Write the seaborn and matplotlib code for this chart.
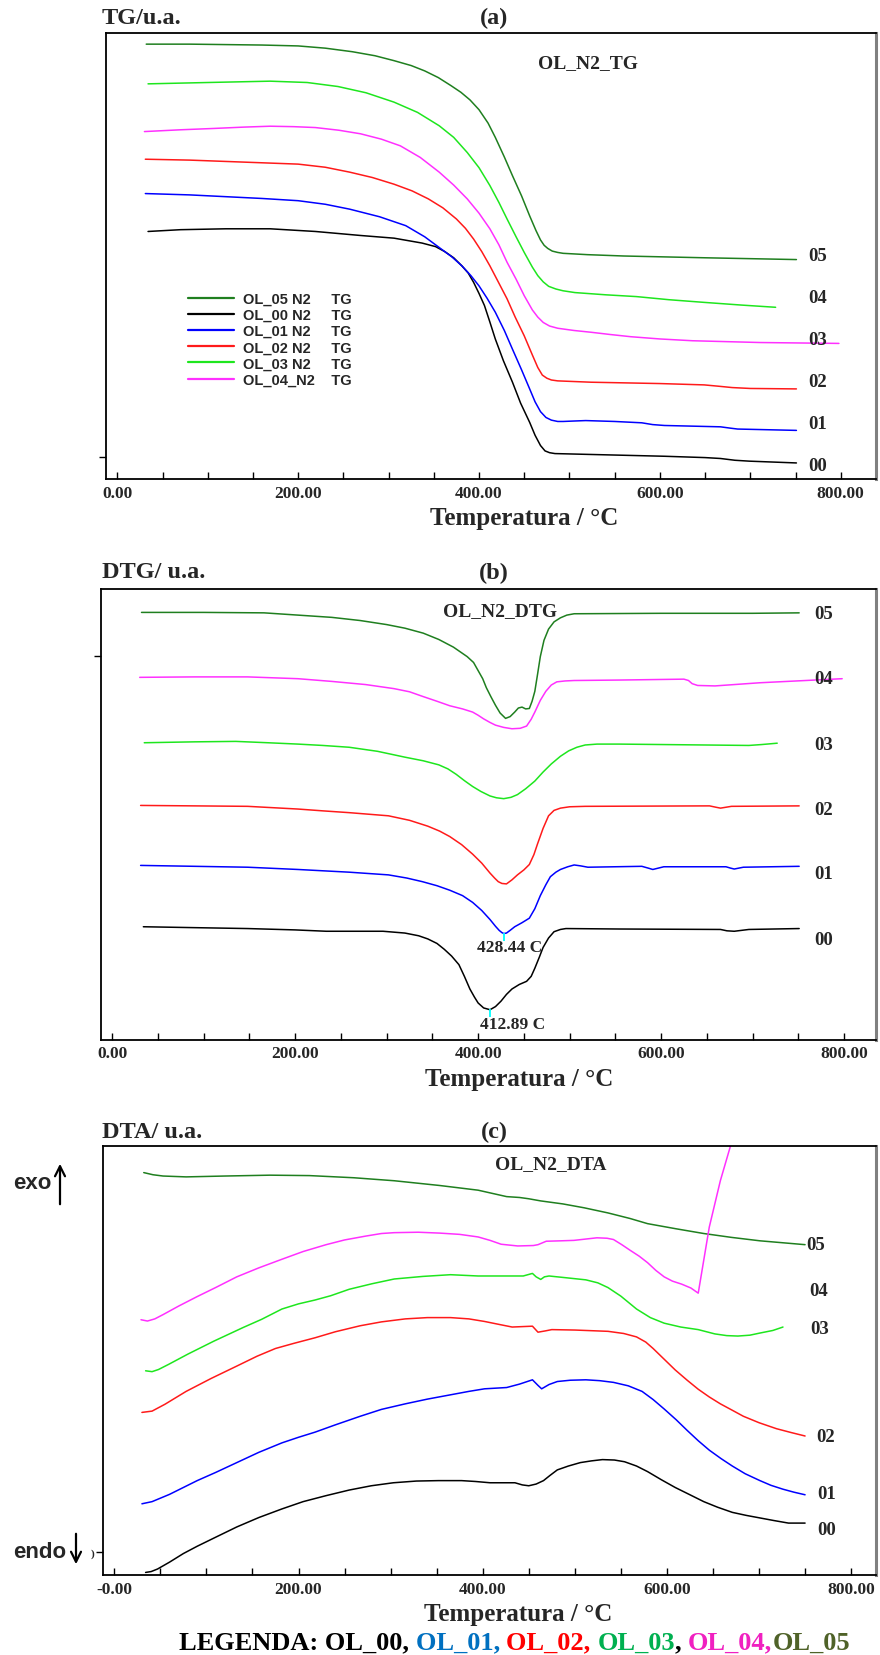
import matplotlib
matplotlib.use("Agg")
import matplotlib.pyplot as plt
import seaborn as sns
from matplotlib.ticker import MultipleLocator

# ---------------- data (temperature in C, signal in % of panel height) ----------------
# (a) TG
tg_t05 = [32, 80, 120, 160, 200, 230, 260, 285, 306, 325, 340, 355, 369, 380, 390, 400, 410, 418, 428, 437, 447, 456,
          463, 468, 472, 476, 481, 487, 493, 520, 560, 650, 751]
tg_v05 = [97.5, 97.5, 97.4, 97.3, 97.1, 96.6, 95.8, 94.9, 93.8, 92.7, 91.5, 90.0, 88.2, 86.7, 85.0, 82.8, 79.8, 76.6,
          72.2, 68.0, 63.5, 59.0, 55.7, 53.6, 52.4, 51.7, 51.1, 50.8, 50.6, 50.3, 50.0, 49.6, 49.2]
tg_t00 = [34, 70, 120, 169, 219, 269, 306, 337, 352, 362, 372, 381, 388, 394, 400, 406, 412, 418, 427, 437, 446, 456,
          462, 468, 473, 478, 484, 524, 605, 650, 667, 683, 699, 751]
tg_v00 = [55.5, 55.9, 56.1, 56.1, 55.5, 54.6, 54.0, 52.9, 52.1, 51.0, 49.6, 47.8, 46.2, 44.1, 41.6, 38.9, 35.2, 31.4,
          26.5, 21.7, 17.0, 12.7, 9.8, 7.5, 6.3, 5.9, 5.7, 5.5, 5.1, 4.8, 4.6, 4.2, 4.0, 3.6]
tg_t01 = [31, 80, 120, 160, 200, 230, 257, 290, 319, 340, 356, 370, 381, 391, 400, 409, 418, 428, 437, 447, 456, 462,
          468, 474, 480, 487, 493, 505, 518, 550, 580, 592, 605, 667, 678, 686, 751]
tg_v01 = [64.0, 63.7, 63.3, 62.9, 62.4, 61.6, 60.5, 58.8, 56.8, 54.3, 51.9, 49.8, 47.8, 45.6, 43.3, 40.5, 37.4, 33.3,
          29.1, 24.5, 20.2, 17.3, 15.1, 13.8, 13.2, 12.9, 12.9, 13.0, 13.1, 12.9, 12.6, 12.2, 12.0, 11.7, 11.4, 11.2, 10.9]
tg_t02 = [31, 80, 120, 160, 200, 230, 257, 282, 306, 326, 344, 360, 375, 385, 394, 403, 412, 421, 431, 440, 450, 459,
          465, 470, 475, 480, 487, 524, 600, 649, 665, 680, 700, 751]
tg_v02 = [71.7, 71.5, 71.2, 70.9, 70.6, 69.9, 68.8, 67.6, 66.1, 64.6, 62.8, 60.8, 58.3, 56.2, 53.8, 51.0, 47.8, 44.3,
          40.4, 36.3, 32.1, 27.8, 25.0, 23.3, 22.6, 22.2, 22.0, 21.7, 21.4, 21.1, 20.8, 20.5, 20.3, 20.2]
tg_t03 = [34, 100, 169, 210, 244, 275, 306, 332, 356, 372, 387, 400, 412, 422, 431, 441, 450, 459, 465, 471, 477, 485,
          493, 506, 540, 574, 610, 649, 690, 728]
tg_v03 = [88.6, 88.9, 89.2, 88.9, 88.0, 86.6, 84.5, 82.2, 79.2, 76.6, 73.2, 69.8, 65.8, 62.0, 58.3, 54.3, 50.8, 47.5,
          45.6, 44.2, 43.2, 42.6, 42.2, 41.8, 41.3, 40.9, 40.2, 39.6, 39.0, 38.5]
tg_t04 = [30, 70, 107, 140, 169, 195, 219, 245, 269, 292, 313, 335, 356, 372, 387, 400, 412, 422, 431, 441, 450, 459,
          465, 471, 478, 487, 505, 524, 545, 568, 600, 636, 711, 798]
tg_v04 = [77.9, 78.3, 78.6, 78.9, 79.1, 79.0, 78.8, 78.2, 77.4, 76.2, 74.7, 72.1, 68.8, 65.9, 62.8, 59.6, 56.1, 52.5,
          48.6, 44.8, 41.1, 37.9, 36.3, 35.1, 34.3, 33.8, 33.3, 32.9, 32.4, 31.9, 31.4, 31.0, 30.6, 30.4]

# (b) DTG
dtg_t05 = [32, 100, 166, 203, 240, 271, 300, 320, 340, 357, 373, 388, 395, 400, 405, 409, 414, 419, 424, 430, 435, 440,
           444, 448, 452, 456, 459, 462, 465, 468, 472, 477, 483, 490, 497, 505, 600, 700, 751]
dtg_v05 = [94.7, 94.7, 94.6, 94.1, 93.6, 92.9, 92.0, 91.2, 90.1, 88.7, 87.0, 84.9, 83.6, 81.8, 80.0, 78.0, 76.0, 74.1,
           72.4, 71.2, 71.6, 72.6, 73.5, 73.7, 73.3, 73.4, 75.0, 77.2, 81.0, 84.9, 88.5, 91.0, 92.6, 93.5, 94.1, 94.4,
           94.5, 94.5, 94.6]
dtg_t04 = [30, 90, 148, 203, 240, 277, 308, 325, 339, 355, 369, 383, 394, 400, 406, 413, 419, 428, 437, 446, 453, 458,
           462, 468, 474, 480, 486, 495, 505, 554, 625, 630, 634, 640, 659, 708, 798]
dtg_v04 = [80.3, 80.4, 80.4, 80.0, 79.4, 78.7, 77.8, 77.1, 76.1, 75.0, 74.0, 73.3, 72.6, 71.9, 71.1, 70.3, 69.7, 69.2,
           68.9, 69.0, 69.5, 71.0, 72.6, 75.2, 77.2, 78.6, 79.3, 79.5, 79.6, 79.7, 79.9, 79.6, 78.9, 78.5, 78.4, 79.1, 80.0]
dtg_t03 = [35, 90, 135, 170, 203, 230, 259, 290, 320, 340, 357, 367, 376, 385, 394, 403, 413, 420, 428, 436, 443, 452,
           462, 471, 480, 490, 499, 508, 517, 530, 554, 696, 710, 727]
dtg_v03 = [65.8, 66.0, 66.1, 65.8, 65.5, 65.2, 64.8, 63.9, 62.6, 61.8, 60.9, 60.0, 58.8, 57.4, 56.1, 55.0, 54.0, 53.6,
           53.4, 53.7, 54.3, 55.6, 57.3, 59.3, 61.1, 62.8, 64.0, 64.8, 65.3, 65.5, 65.5, 65.2, 65.4, 65.7]
dtg_t02 = [31, 90, 148, 203, 230, 259, 302, 325, 345, 358, 369, 382, 394, 404, 413, 418, 422, 426, 431, 437, 443, 450,
           456, 461, 465, 471, 477, 483, 490, 500, 517, 653, 660, 665, 671, 677, 751]
dtg_v02 = [51.9, 51.8, 51.7, 51.1, 50.7, 50.3, 49.6, 48.6, 47.3, 46.2, 45.0, 43.2, 41.1, 39.1, 36.9, 35.8, 35.0, 34.6,
           34.5, 35.4, 36.5, 37.6, 38.8, 41.0, 43.4, 46.8, 49.6, 50.8, 51.3, 51.6, 51.7, 51.8, 51.5, 51.3, 51.5, 51.7, 51.8]
dtg_t01 = [31, 90, 148, 203, 259, 302, 322, 339, 355, 369, 383, 394, 404, 413, 419, 423, 426, 428, 431, 435, 440, 448,
           456, 462, 468, 474, 479, 485, 490, 498, 505, 512, 520, 579, 586, 591, 597, 603, 671, 676, 680, 685, 690, 751]
dtg_v01 = [38.6, 38.4, 38.2, 37.7, 37.1, 36.5, 35.8, 35.0, 34.1, 33.1, 31.9, 30.4, 28.6, 26.6, 25.1, 24.2, 23.7, 23.5,
           23.6, 24.2, 25.0, 25.9, 26.9, 29.0, 31.9, 34.3, 36.1, 37.1, 37.7, 38.3, 38.7, 38.5, 38.2, 38.4, 38.0, 37.7,
           38.0, 38.3, 38.3, 38.0, 37.8, 38.0, 38.2, 38.4]
dtg_t00 = [34, 90, 148, 200, 234, 296, 320, 335, 345, 355, 363, 371, 379, 385, 391, 396, 400, 406, 413, 419, 425, 431,
           437, 445, 453, 458, 462, 467, 471, 477, 483, 490, 496, 554, 665, 672, 680, 688, 696, 751]
dtg_v00 = [25.0, 24.8, 24.6, 24.3, 24.0, 24.0, 23.6, 23.0, 22.3, 21.3, 20.0, 18.5, 16.6, 14.0, 11.2, 9.4, 8.1, 7.0, 6.6,
           7.3, 8.5, 10.0, 11.2, 12.2, 12.9, 14.0, 15.8, 18.3, 20.4, 22.5, 23.9, 24.4, 24.6, 24.5, 24.4, 24.1, 24.0,
           24.2, 24.4, 24.6]
dtg_peak_t = [428.44, 412.89]
dtg_peak_v = [23.5, 6.6]
dtg_peak_lbl = ["428.44 C", "412.89 C"]

# (c) DTA
dta_t05 = [32, 42, 53, 78, 120, 169, 212, 260, 304, 353, 395, 426, 440, 450, 463, 487, 510, 536, 560, 579, 610, 640,
           670, 701, 750]
dta_v05 = [93.8, 93.3, 93.0, 92.8, 93.0, 93.2, 93.1, 92.6, 91.9, 90.8, 89.7, 88.2, 88.0, 87.7, 87.2, 86.5, 85.6, 84.4,
           83.1, 81.9, 80.7, 79.6, 78.7, 77.9, 77.0]
dta_t04 = [29, 36, 44, 53, 70, 90, 110, 133, 157, 182, 205, 230, 250, 273, 290, 304, 330, 353, 375, 395, 408, 420, 438,
           455, 460, 469, 485, 499, 524, 535, 542, 551, 560, 570, 579, 588, 597, 606, 616, 626, 634, 646, 658, 669, 680]
dta_v04 = [59.5, 59.2, 59.7, 60.7, 62.7, 64.9, 67.0, 69.5, 71.6, 73.6, 75.4, 77.0, 78.1, 79.0, 79.6, 79.8, 79.9, 79.7,
           79.4, 78.8, 78.0, 77.1, 76.7, 76.8, 77.0, 77.8, 77.9, 78.0, 78.6, 78.5, 78.2, 77.0, 75.7, 74.3, 72.8, 71.0,
           69.5, 68.5, 67.8, 66.9, 65.7, 81.1, 91.9, 100.0, 111.0]
dta_t03 = [34, 41, 48, 59, 80, 108, 140, 160, 182, 200, 218, 235, 255, 280, 304, 335, 365, 395, 444, 454, 458, 463, 467,
           472, 490, 512, 525, 536, 550, 567, 582, 597, 615, 634, 652, 665, 677, 690, 701, 715, 726]
dta_v03 = [47.6, 47.4, 47.9, 49.1, 51.5, 54.5, 57.7, 59.6, 62.0, 63.2, 64.1, 65.1, 66.6, 67.9, 69.0, 69.6, 70.0, 69.7,
           69.7, 70.3, 69.5, 68.9, 69.5, 69.7, 69.3, 68.8, 68.1, 67.0, 65.0, 62.0, 60.0, 58.7, 57.8, 57.2, 56.2, 55.8,
           55.7, 55.9, 56.4, 57.0, 57.8]
dta_t02 = [30, 41, 55, 78, 105, 133, 155, 175, 195, 218, 240, 267, 290, 316, 340, 365, 385, 402, 418, 432, 454, 460, 468,
           475, 500, 536, 553, 567, 577, 585, 597, 609, 622, 634, 646, 658, 671, 683, 700, 719, 735, 750]
dta_v02 = [37.9, 38.2, 39.8, 42.8, 45.8, 48.7, 51.0, 52.8, 54.0, 55.3, 56.7, 58.1, 59.0, 59.7, 60.0, 60.0, 59.7, 59.1,
           58.4, 57.8, 58.0, 56.6, 56.9, 57.2, 57.1, 56.8, 56.3, 55.5, 54.3, 52.8, 50.3, 47.8, 45.4, 43.3, 41.5, 39.9,
           38.4, 37.0, 35.5, 34.1, 33.2, 32.4]
dta_t01 = [30, 41, 60, 90, 110, 133, 157, 182, 200, 218, 240, 267, 290, 316, 340, 365, 385, 402, 426, 440, 454, 460,
           464, 472, 481, 495, 512, 527, 542, 558, 573, 585, 597, 610, 622, 634, 646, 659, 671, 685, 701, 713, 726, 738, 750]
dta_v01 = [16.6, 17.1, 18.8, 22.0, 23.9, 26.2, 28.6, 30.8, 32.1, 33.3, 35.0, 37.0, 38.6, 39.9, 41.0, 42.0, 42.8, 43.4,
           43.7, 44.5, 45.5, 44.2, 43.4, 44.4, 45.1, 45.4, 45.5, 45.3, 44.9, 44.1, 42.8, 40.9, 38.7, 36.2, 33.7, 31.3,
           29.1, 27.1, 25.4, 23.6, 22.0, 20.9, 20.0, 19.3, 18.7]
dta_t00 = [34, 40, 47, 60, 75, 90, 110, 133, 157, 182, 205, 230, 255, 279, 303, 328, 352, 377, 392, 408, 435, 443, 450,
           458, 466, 473, 481, 493, 506, 518, 530, 543, 554, 567, 579, 594, 609, 625, 640, 655, 671, 686, 701, 716, 732, 750]
dta_v00 = [0.6, 0.8, 1.4, 3.0, 5.0, 6.7, 8.8, 11.2, 13.4, 15.4, 17.1, 18.5, 19.8, 20.8, 21.5, 21.9, 22.0, 22.0, 21.8,
           21.5, 21.5, 21.0, 20.8, 21.2, 22.0, 23.2, 24.5, 25.4, 26.2, 26.6, 26.9, 26.8, 26.4, 25.4, 24.1, 22.2, 20.4,
           18.7, 17.1, 15.8, 14.6, 13.9, 13.3, 12.7, 12.1, 12.1]

# curve end labels
end_lbl = ["05", "04", "03", "02", "01", "00"]
tg_lbl_v = [50.2, 40.6, 31.2, 21.8, 12.4, 3.0]
dtg_lbl_v = [94.5, 80.0, 65.5, 51.1, 36.7, 22.2]
dta_lbl_t = [751, 754, 756, 762, 763, 763]
dta_lbl_v = [77.0, 66.4, 57.4, 32.4, 18.9, 10.6]

tick_vals = [0, 200, 400, 600, 800]
tick_lbl = ["0.00", "200.00", "400.00", "600.00", "800.00"]
tick_lbl_c = ["-0.00", "200.00", "400.00", "600.00", "800.00"]

legend_names = ["OL_05 N2     TG", "OL_00 N2     TG", "OL_01 N2     TG",
                "OL_02 N2     TG", "OL_03 N2     TG", "OL_04_N2    TG"]
legenda_parts = ["LEGENDA: OL_00, ", "OL_01, ", "OL_02, ", "OL_03", ", ", "OL_04,", "OL_05"]
legenda_colors = ["black", "#0070c0", "#ff0000", "#00b050", "black", "#f020c0", "#4f6228"]

# ---------------- style ----------------
C05, C00, C01, C02, C03, C04 = "#1f7f1f", "black", "#0000ff", "#ff1a1a", "#1ee61e", "#ff30ff"

sns.set_theme(style="white")
plt.rcParams["font.family"] = ["Liberation Serif", "DejaVu Serif"]
plt.rcParams["font.weight"] = "bold"

fig = plt.figure(figsize=(8.8, 16.56), dpi=100)
W, H = 880, 1656


def fx(x):
    return x / W


def fy(y):
    return 1 - y / H


def style_axes(ax, xlim, labels, ytick, xlab_x):
    ax.set_xlim(*xlim)
    ax.set_ylim(0, 100)
    for s in ["top", "left", "bottom"]:
        ax.spines[s].set_color("black")
        ax.spines[s].set_linewidth(1.3)
    ax.spines["right"].set_color("#808080")
    ax.spines["right"].set_linewidth(2.2)
    ax.set_xticks(tick_vals)
    ax.set_xticklabels(labels, fontsize=12.5, fontweight="bold")
    ax.xaxis.set_minor_locator(MultipleLocator(50))
    ax.tick_params(axis="x", which="both", direction="in", length=5, width=1,
                   bottom=True, top=False, color="black", pad=4)
    ax.set_yticks([ytick[0]])
    ax.set_yticklabels([ytick[1]], fontsize=8)
    ax.tick_params(axis="y", direction="out", length=5, width=1, left=True, pad=1, color="black")
    ax.set_xlabel("Temperatura / °C", fontsize=18, fontweight="bold", labelpad=4, x=xlab_x)
    ax.grid(False)


def curve(ax, t, v, c, label=None):
    sns.lineplot(x=t, y=v, color=c, lw=1.1, ax=ax, sort=False, estimator=None, label=label)


# ---------------- (a) TG ----------------
ax1 = fig.add_axes([fx(106), fy(480), fx(876) - fx(106), fy(34) - fy(480)])
curve(ax1, tg_t05, tg_v05, C05, legend_names[0])
curve(ax1, tg_t00, tg_v00, C00, legend_names[1])
curve(ax1, tg_t01, tg_v01, C01, legend_names[2])
curve(ax1, tg_t02, tg_v02, C02, legend_names[3])
curve(ax1, tg_t03, tg_v03, C03, legend_names[4])
curve(ax1, tg_t04, tg_v04, C04, legend_names[5])
style_axes(ax1, (-12.5, 839), tick_lbl, (4.9, ""), 0.543)
for lbl, v in zip(end_lbl, tg_lbl_v):
    ax1.text(764, v, lbl, fontsize=13.5, fontweight="bold", ha="left", va="center", clip_on=False)
ax1.text(521, 93.3, "OL_N2_TG", fontsize=14, fontweight="bold", ha="center", va="center")
leg = ax1.legend(loc="upper left", bbox_to_anchor=(0.106, 0.42), frameon=False,
                 prop={"family": "Liberation Sans", "weight": "bold", "size": 10.5},
                 handlelength=3.2, handletextpad=0.6, labelspacing=0.15, borderpad=0,
                 borderaxespad=0)
for h in leg.get_lines():
    h.set_linewidth(1.6)

# ---------------- (b) DTG ----------------
ax2 = fig.add_axes([fx(101), fy(1040.5), fx(876) - fx(101), fy(589.5) - fy(1040.5)])
curve(ax2, dtg_t05, dtg_v05, C05)
curve(ax2, dtg_t04, dtg_v04, C04)
curve(ax2, dtg_t03, dtg_v03, C03)
curve(ax2, dtg_t02, dtg_v02, C02)
curve(ax2, dtg_t01, dtg_v01, C01)
curve(ax2, dtg_t00, dtg_v00, C00)
style_axes(ax2, (-12.3, 835), tick_lbl, (85.0, ""), 0.539)
for lbl, v in zip(end_lbl, dtg_lbl_v):
    ax2.text(768, v, lbl, fontsize=13.5, fontweight="bold", ha="left", va="center", clip_on=False)
ax2.text(424, 95.2, "OL_N2_DTG", fontsize=14, fontweight="bold", ha="center", va="center")
ax2.plot(dtg_peak_t, [v - 0.8 for v in dtg_peak_v], ls="none", marker="|", ms=6, mew=1.3, color="cyan")
ax2.text(434, 20.4, dtg_peak_lbl[0], fontsize=12.5, fontweight="bold", ha="center", va="center")
ax2.text(438, 3.5, dtg_peak_lbl[1], fontsize=12.5, fontweight="bold", ha="center", va="center")

# ---------------- (c) DTA ----------------
ax3 = fig.add_axes([fx(102.5), fy(1576), fx(876) - fx(102.5), fy(1147) - fy(1576)])
curve(ax3, dta_t05, dta_v05, C05)
curve(ax3, dta_t04, dta_v04, C04)
curve(ax3, dta_t03, dta_v03, C03)
curve(ax3, dta_t02, dta_v02, C02)
curve(ax3, dta_t01, dta_v01, C01)
curve(ax3, dta_t00, dta_v00, C00)
style_axes(ax3, (-12.8, 827), tick_lbl_c, (5.4, ")"), 0.538)
for lbl, t, v in zip(end_lbl, dta_lbl_t, dta_lbl_v):
    ax3.text(t, v, lbl, fontsize=13.5, fontweight="bold", ha="left", va="center", clip_on=False)
ax3.text(474, 95.9, "OL_N2_DTA", fontsize=14, fontweight="bold", ha="center", va="center")

# ---------------- panel headers ----------------
for y, left, mid in [(18, "TG/u.a.", "(a)"), (573, "DTG/ u.a.", "(b)"), (1132, "DTA/ u.a.", "(c)")]:
    fig.text(fx(102), fy(y), left, fontsize=17.5, fontweight="bold", ha="left", va="center")
    fig.text(fx(494), fy(y), mid, fontsize=17.5, fontweight="bold", ha="center", va="center")

# exo / endo
sans = {"family": "Liberation Sans", "weight": "bold", "size": 16}
fig.text(fx(13), fy(1184), "exo", ha="left", va="center", fontdict=sans)
fig.text(fx(13), fy(1553), "endo", ha="left", va="center", fontdict=sans)
arrow = dict(arrowstyle="->,head_length=0.6,head_width=0.3", color="black", lw=1.6)
ax3.annotate("", xy=(fx(60), fy(1162)), xytext=(fx(60), fy(1208)),
             xycoords="figure fraction", textcoords="figure fraction", arrowprops=arrow)
ax3.annotate("", xy=(fx(76), fy(1568)), xytext=(fx(76), fy(1532)),
             xycoords="figure fraction", textcoords="figure fraction", arrowprops=arrow)

# LEGENDA line with coloured parts
prev = fig.text(fx(179), fy(1643), legenda_parts[0], color=legenda_colors[0],
                fontsize=19, fontweight="bold", ha="left", va="center")
for part, col in zip(legenda_parts[1:], legenda_colors[1:]):
    prev = ax3.annotate(part, xy=(1, 0), xycoords=prev, va="bottom", ha="left",
                        color=col, fontsize=19, fontweight="bold", annotation_clip=False)

fig.savefig("out.png", dpi=100)
